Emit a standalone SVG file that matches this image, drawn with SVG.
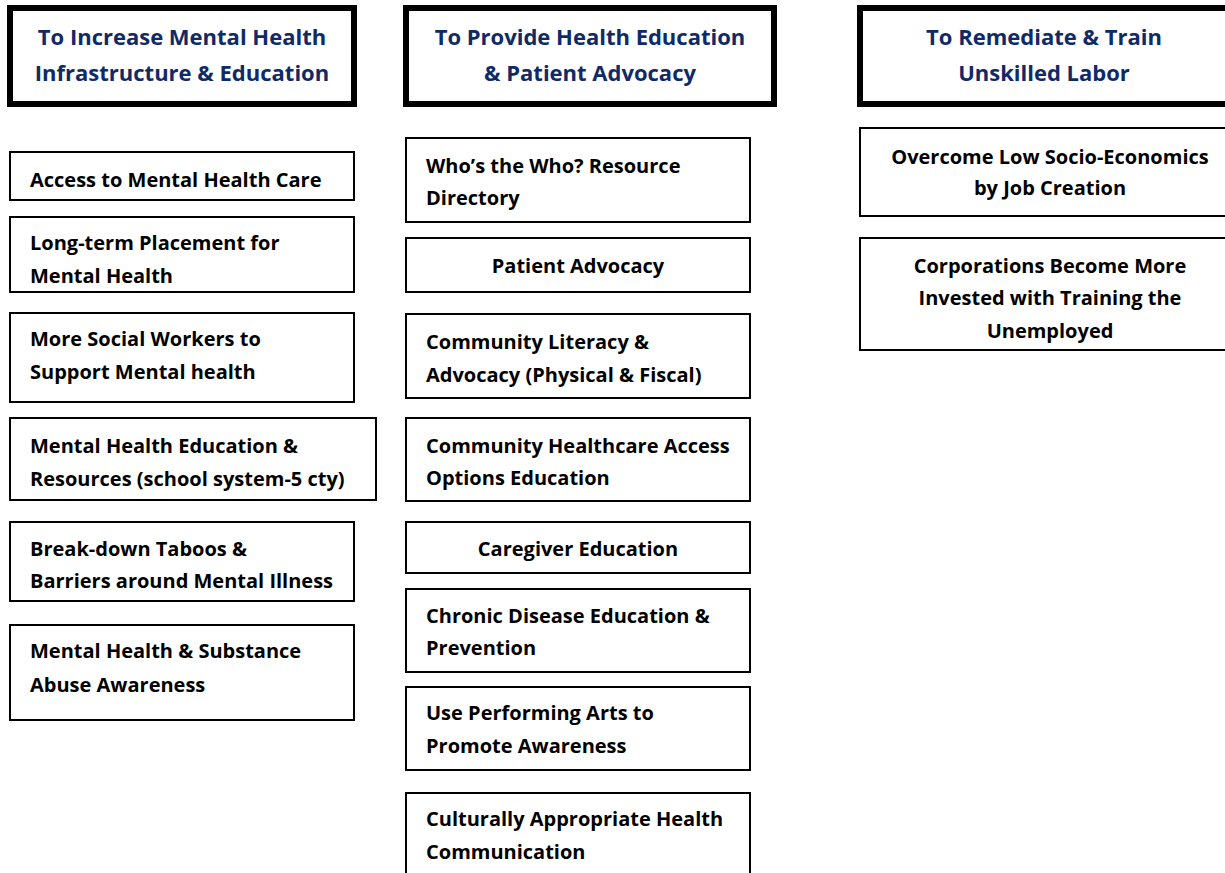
<svg xmlns="http://www.w3.org/2000/svg" width="1225" height="873" viewBox="0 0 1225 873">
<style>
.hdr{fill:#fff;stroke:#000;stroke-width:6}
.box{fill:#fff;stroke:#000;stroke-width:2}
.ht{font-family:"Open Sans","Liberation Sans",sans-serif;font-weight:bold;font-size:22px;fill:#102a68;text-anchor:middle}
.t{font-family:"Open Sans","Liberation Sans",sans-serif;font-weight:bold;font-size:20px;fill:#000}
.c{text-anchor:middle}
</style>
<rect width="1225" height="873" fill="#fff"/>
<g id="connectors"></g>
<g id="h1"><rect class="hdr" x="10" y="8" width="344" height="96"/><text class="ht" x="182" y="45">To Increase Mental Health</text><text class="ht" x="182" y="81">Infrastructure &amp; Education</text></g>
<g id="h2"><rect class="hdr" x="406" y="8" width="368" height="96"/><text class="ht" x="590" y="45">To Provide Health Education</text><text class="ht" x="590" y="81">&amp; Patient Advocacy</text></g>
<g id="h3"><rect class="hdr" x="860" y="8" width="380" height="96"/><text class="ht" x="1044" y="45">To Remediate &amp; Train</text><text class="ht" x="1044" y="81">Unskilled Labor</text></g>

<g id="l1"><rect class="box" x="10" y="152" width="344" height="48"/><text class="t" x="30" y="187">Access to Mental Health Care</text></g>
<g id="l2"><rect class="box" x="10" y="217" width="344" height="75"/><text class="t" x="30" y="250">Long-term Placement for</text><text class="t" x="30" y="283">Mental Health</text></g>
<g id="l3"><rect class="box" x="10" y="313" width="344" height="89"/><text class="t" x="30" y="346">More Social Workers to</text><text class="t" x="30" y="379">Support Mental health</text></g>
<g id="l4"><rect class="box" x="10" y="418" width="366" height="82"/><text class="t" x="30" y="453">Mental Health Education &amp;</text><text class="t" x="30" y="486">Resources (school system-5 cty)</text></g>
<g id="l5"><rect class="box" x="10" y="522" width="344" height="79"/><text class="t" x="30" y="556">Break-down Taboos &amp;</text><text class="t" x="30" y="588">Barriers around Mental Illness</text></g>
<g id="l6"><rect class="box" x="10" y="625" width="344" height="95"/><text class="t" x="30" y="658">Mental Health &amp; Substance</text><text class="t" x="30" y="692">Abuse Awareness</text></g>

<g id="m1"><rect class="box" x="406" y="138" width="344" height="84"/><text class="t" x="426" y="173">Who’s the Who? Resource</text><text class="t" x="426" y="205">Directory</text></g>
<g id="m2"><rect class="box" x="406" y="238" width="344" height="54"/><text class="t c" x="578" y="273">Patient Advocacy</text></g>
<g id="m3"><rect class="box" x="406" y="314" width="344" height="84"/><text class="t" x="426" y="349">Community Literacy &amp;</text><text class="t" x="426" y="382">Advocacy (Physical &amp; Fiscal)</text></g>
<g id="m4"><rect class="box" x="406" y="418" width="344" height="83"/><text class="t" x="426" y="453">Community Healthcare Access</text><text class="t" x="426" y="485">Options Education</text></g>
<g id="m5"><rect class="box" x="406" y="522" width="344" height="51"/><text class="t c" x="578" y="556">Caregiver Education</text></g>
<g id="m6"><rect class="box" x="406" y="589" width="344" height="83"/><text class="t" x="426" y="623">Chronic Disease Education &amp;</text><text class="t" x="426" y="655">Prevention</text></g>
<g id="m7"><rect class="box" x="406" y="687" width="344" height="83"/><text class="t" x="426" y="720">Use Performing Arts to</text><text class="t" x="426" y="753">Promote Awareness</text></g>
<g id="m8"><rect class="box" x="406" y="793" width="344" height="90"/><text class="t" x="426" y="826">Culturally Appropriate Health</text><text class="t" x="426" y="859">Communication</text></g>

<g id="r1"><rect class="box" x="860" y="128" width="380" height="88"/><text class="t c" x="1050" y="164">Overcome Low Socio-Economics</text><text class="t c" x="1050" y="195">by Job Creation</text></g>
<g id="r2"><rect class="box" x="860" y="238" width="380" height="112"/><text class="t c" x="1050" y="273">Corporations Become More</text><text class="t c" x="1050" y="305">Invested with Training the</text><text class="t c" x="1050" y="338">Unemployed</text></g>
</svg>
